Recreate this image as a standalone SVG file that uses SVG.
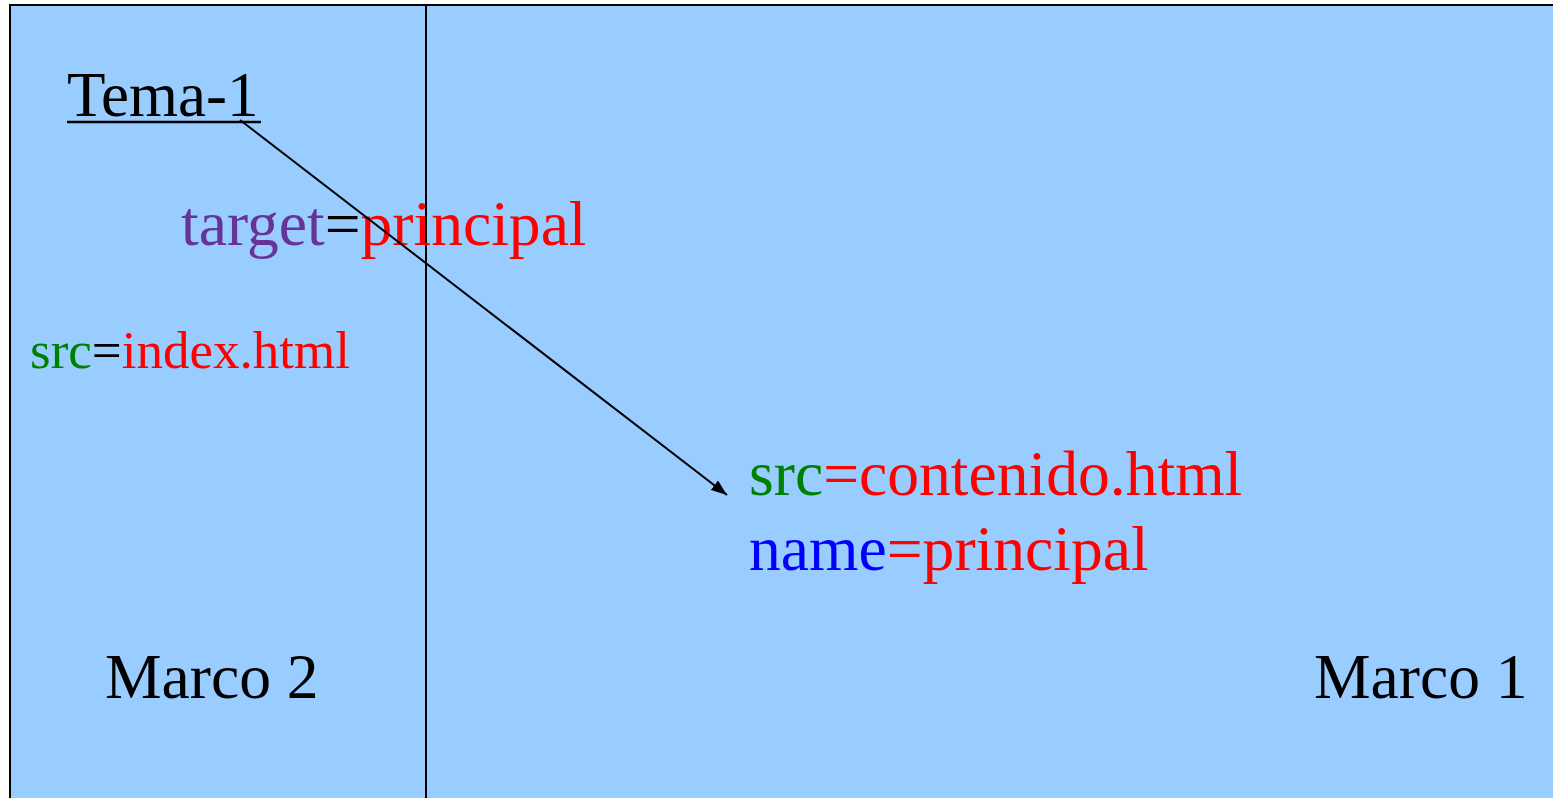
<svg xmlns="http://www.w3.org/2000/svg" width="1553" height="798" viewBox="0 0 1553 798">
<style>
text{font-family:"Liberation Serif","Times New Roman",serif;font-size:63.6px}
.p{fill:#663399}.g{fill:#008000}.r{fill:#FF0000}.b{fill:#0000FF}.k{fill:#000000}
</style>
<defs>
<marker id="ah" markerWidth="16" markerHeight="12" refX="16" refY="6" orient="auto" markerUnits="userSpaceOnUse" viewBox="0 0 16 12">
<path d="M0,0 L16,6 L0,12 z" fill="#000"/>
</marker>
</defs>
<g id="frame">
<rect x="10" y="5" width="1560" height="810" fill="#99CCFF" stroke="#000" stroke-width="2"/>
<line x1="426" y1="5" x2="426" y2="798" stroke="#000" stroke-width="2"/>
</g>
<g id="marco2">
<text x="67" y="116" class="k" style="font-size:63px">Tema-1</text>
<line x1="67" y1="122" x2="261" y2="122" stroke="#000" stroke-width="2.5"/>
<text x="181" y="245"><tspan class="p">target</tspan><tspan class="k">=</tspan><tspan class="r">principal</tspan></text>
<text x="30" y="368" style="font-size:53px"><tspan class="g">src</tspan><tspan class="k">=</tspan><tspan class="r">index.html</tspan></text>
<text x="105" y="698" class="k">Marco 2</text>
</g>
<g id="marco1">
<text x="749" y="495"><tspan class="g">src</tspan><tspan class="r">=contenido.html</tspan></text>
<text x="749" y="570"><tspan class="b">name</tspan><tspan class="r">=principal</tspan></text>
<text x="1314" y="698" class="k">Marco 1</text>
</g>
<g id="connectors">
<line x1="240" y1="120" x2="727" y2="495" stroke="#000" stroke-width="2" marker-end="url(#ah)"/>
</g>
</svg>
